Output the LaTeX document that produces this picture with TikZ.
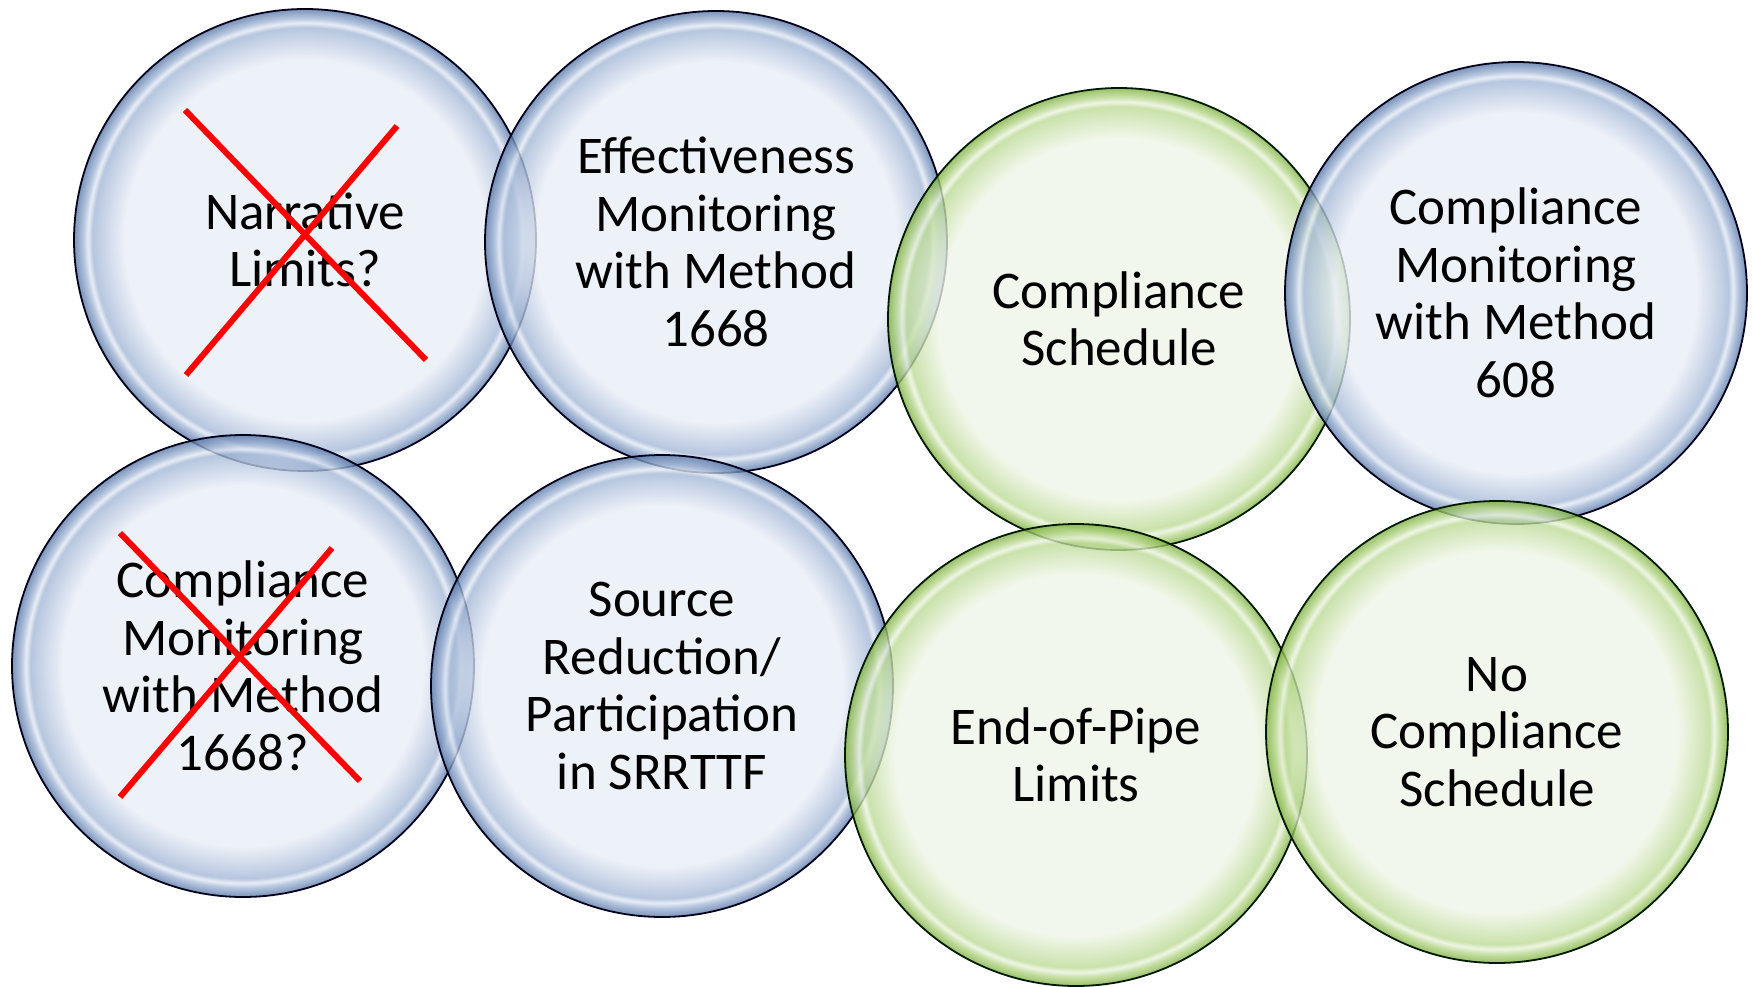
\documentclass[tikz,border=0pt]{standalone}
\usepackage{fontspec}
\setmainfont{Carlito}
\definecolor{bin}{HTML}{E9EEF7}
\definecolor{bmid}{HTML}{A3B7D6}
\definecolor{bout}{HTML}{5676A8}
\definecolor{bhl}{HTML}{E2E9F4}
\definecolor{gin}{HTML}{EFF6E8}
\definecolor{gmid}{HTML}{BCDA94}
\definecolor{gout}{HTML}{7DB03C}
\definecolor{ghl}{HTML}{EAF3DE}
\pgfdeclareradialshading{bubbleblue}{\pgfpoint{0bp}{0bp}}{color(0bp)=(bin); color(19.5bp)=(bin); color(23bp)=(bmid); color(23.5bp)=(bhl); color(24bp)=(bmid); color(25bp)=(bout); color(50bp)=(bout)}
\pgfdeclareradialshading{bubblegreen}{\pgfpoint{0bp}{0bp}}{color(0bp)=(gin); color(19.5bp)=(gin); color(23bp)=(gmid); color(23.5bp)=(ghl); color(24bp)=(gmid); color(25bp)=(gout); color(50bp)=(gout)}
\tikzset{
  bubble/.style={circle, minimum size=462pt, inner sep=0pt, line width=1.8pt,
    shade, fill opacity=0.78, text opacity=1, align=center,
    font=\fontsize{53}{57.5}\selectfont},
  bluebub/.style={bubble, shading=bubbleblue, draw=black!90!blue},
  greenbub/.style={bubble, shading=bubblegreen, draw=black!90!green},
  cross/.style={draw=red, line width=6pt}
}
\begin{document}
\begin{tikzpicture}[x=1pt,y=-1pt]
\fill[white] (0,0) rectangle (1754,987);
\useasboundingbox (0,0) rectangle (1754,987);
\node[bluebub] (n1) at (305,240) {Narrative\\Limits?};
\node[bluebub] (n2) at (716,242) {Effectiveness\\Monitoring\\with Method\\1668};
\node[greenbub] (n3) at (1119,319) {Compliance\\Schedule};
\node[bluebub] (n4) at (1516,293) {Compliance\\Monitoring\\with Method\\608};
\node[bluebub] (n5) at (243,666) {Compliance\\Monitoring\\with Method\\1668?};
\node[bluebub] (n6) at (662,686) {Source\\Reduction/\\Participation\\in SRRTTF};
\node[greenbub] (n7) at (1076,755) {End-of-Pipe\\Limits};
\node[greenbub] (n8) at (1497,732) {No\\Compliance\\Schedule};
\draw[cross] ([shift={(-120,-130)}]n1.center) -- ([shift={(121,120)}]n1.center);
\draw[cross] ([shift={(92,-114)}]n1.center) -- ([shift={(-119,135)}]n1.center);
\draw[cross] ([shift={(-123,-133)}]n5.center) -- ([shift={(117,115)}]n5.center);
\draw[cross] ([shift={(89,-118)}]n5.center) -- ([shift={(-123,131)}]n5.center);
\end{tikzpicture}
\end{document}
